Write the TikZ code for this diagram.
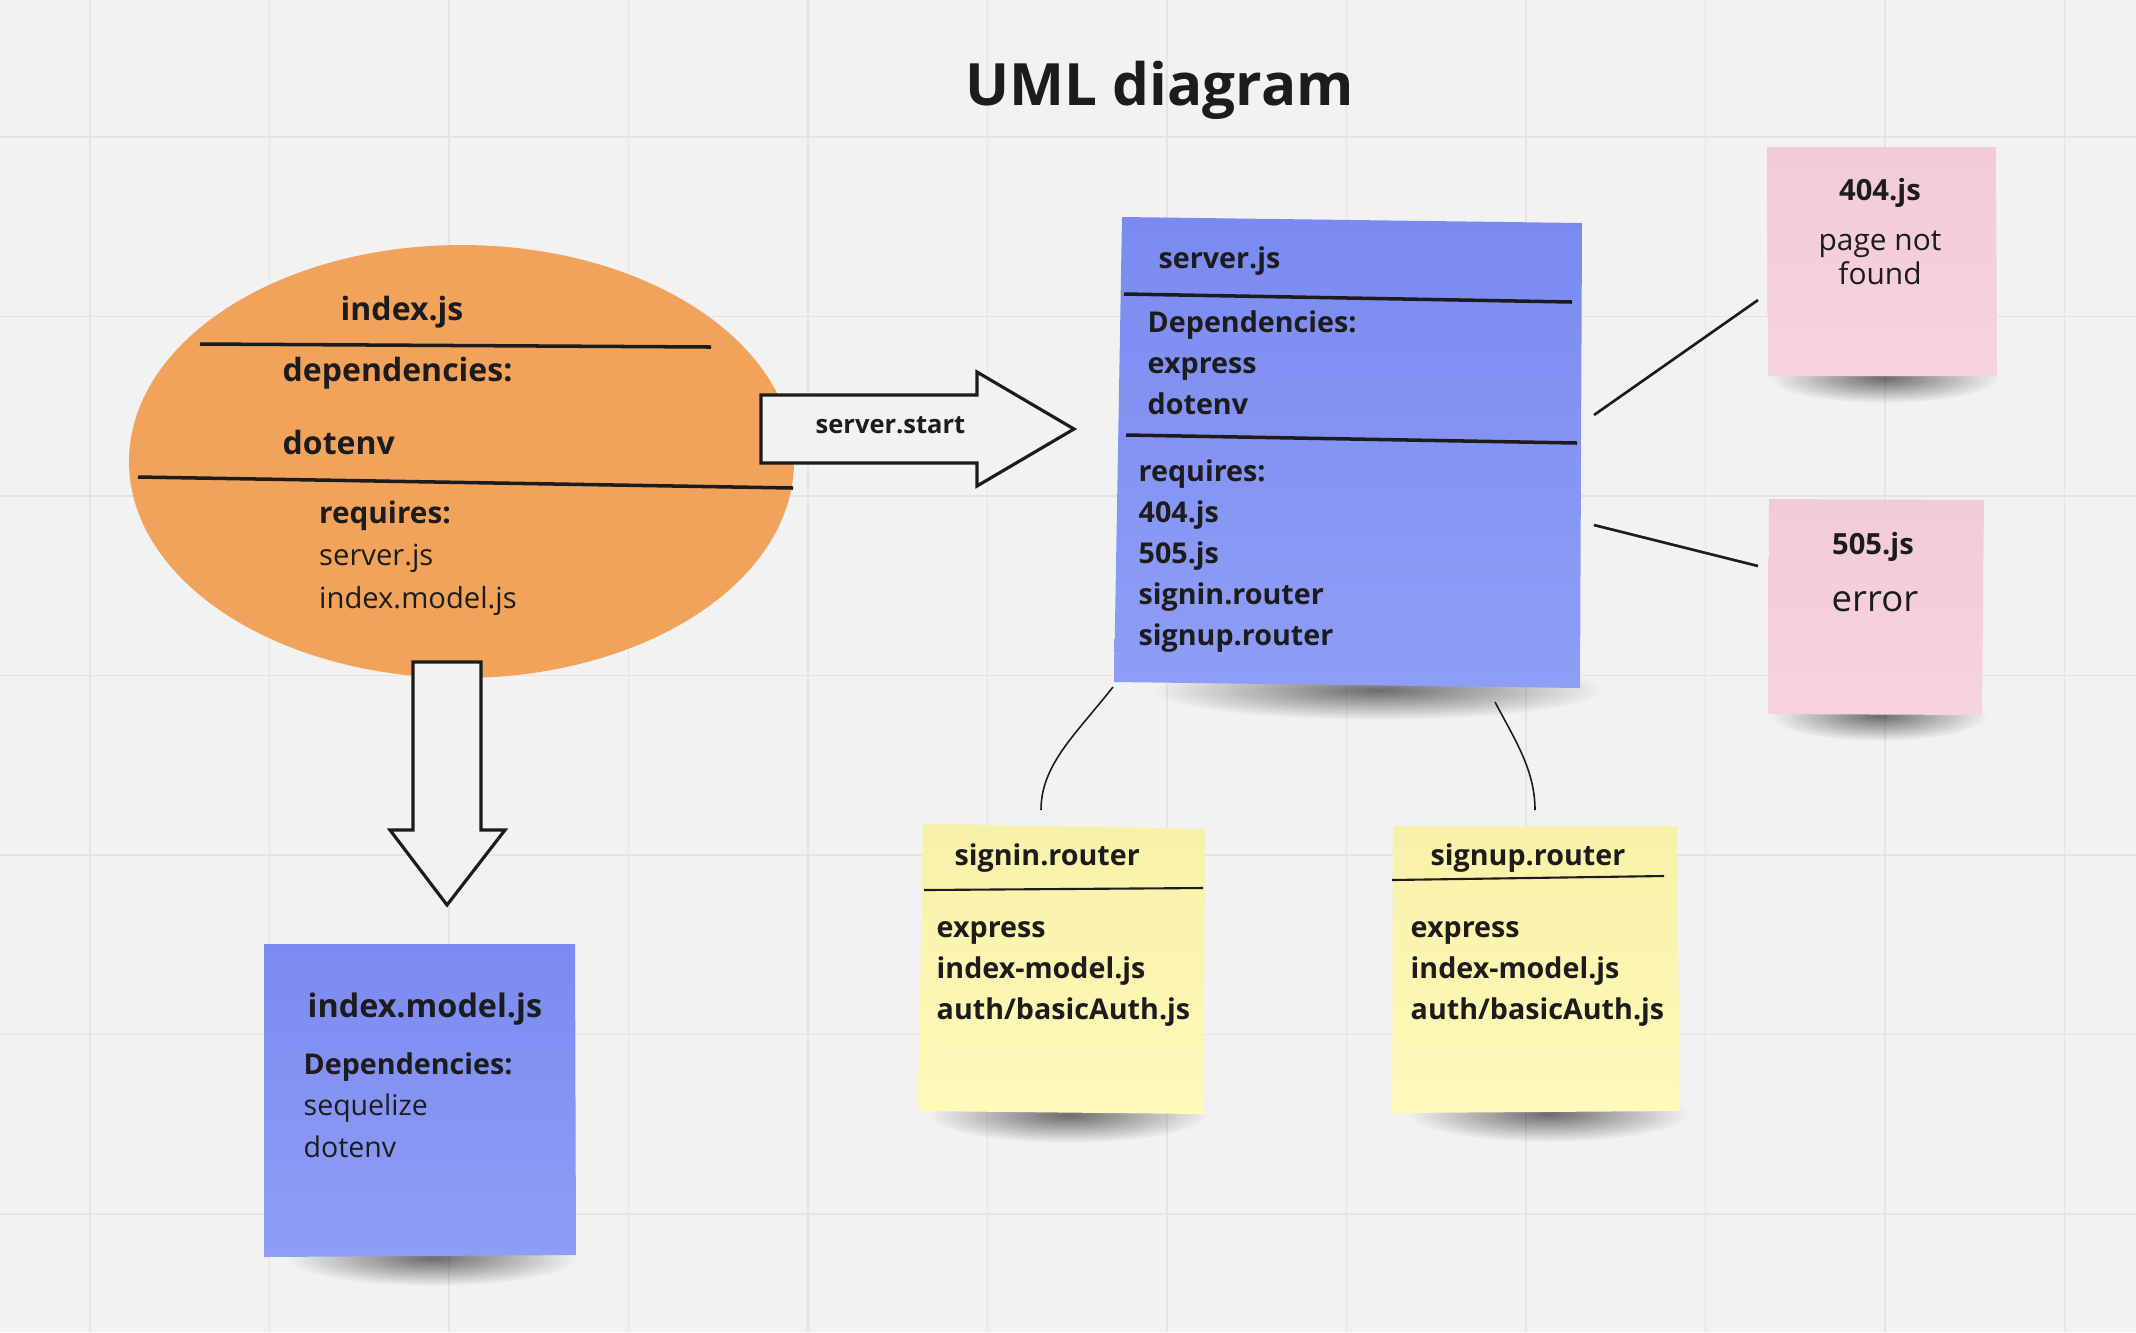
\documentclass[tikz,border=0pt]{standalone}
\usepackage{fontspec}
\setmainfont{Open Sans}
\usetikzlibrary{fadings}
\definecolor{canvas}{HTML}{F2F2F2}
\definecolor{gridc}{HTML}{E4E4E4}
\definecolor{ink}{HTML}{1C1C1C}
\definecolor{orangefill}{HTML}{F1A35B}
\definecolor{bluetop}{HTML}{7B8AF0}
\definecolor{bluebot}{HTML}{8E9EF6}
\definecolor{pinktop}{HTML}{F2CBDB}
\definecolor{pinkfill}{HTML}{F7D2E0}
\definecolor{yellowtop}{HTML}{F8F1A8}
\definecolor{yellowfill}{HTML}{FFF9BB}
\tikzfading[name=softshade,inner color=transparent!45,outer color=transparent!100]
\newcommand\setfs[2]{\fontsize{#1}{#2}\selectfont}
\begin{document}
\begin{tikzpicture}[x=0.01cm,y=-0.01cm,
    lbl/.style={anchor=base west,inner sep=0,text=ink,font=\bfseries\setfs{8.15}{10}},
    plain/.style={lbl,font=\setfs{8.1}{10}},
    big/.style={font=\bfseries\setfs{9.1}{11}},
    ttl/.style={anchor=base,inner sep=0,text=ink},
    rule/.style={draw=ink,line width=1pt},
    thinrule/.style={draw=ink,line width=0.6pt},
    hollow/.style={fill=canvas,draw=ink,line width=0.9pt,line join=miter},
    link/.style={draw=ink,line width=0.75pt},
    curvelink/.style={draw=ink,line width=0.45pt},
    gridline/.style={draw=gridc,line width=0.5pt},
    shadowblob/.style={fill=black,path fading=softshade}]
  \useasboundingbox (0,0) rectangle (2136,1332);
  \fill[canvas] (0,0) rectangle (2136,1332);
  \foreach \k in {0,...,11} \draw[gridline] (90+179.5*\k,0) -- (90+179.5*\k,1332);
  \foreach \k in {0,...,6} \draw[gridline] (0,137+179.5*\k) -- (2136,137+179.5*\k);
  \node[ttl,font=\bfseries\setfs{16.6}{20}] (title) at (1159.5,105) {UML diagram};

  \fill[shadowblob] (1378,690) ellipse (225 and 30);
  \fill[shadowblob] (432,1258) ellipse (145 and 28);
  \fill[shadowblob] (1068,1115) ellipse (140 and 28);
  \fill[shadowblob] (1548,1114) ellipse (140 and 28);
  \fill[shadowblob] (1884,378) ellipse (115 and 25);
  \fill[shadowblob] (1879,716) ellipse (108 and 25);

  \fill[orangefill] (461.5,461.5) ellipse (332.5 and 216.5);
  \draw[rule] (200,344) -- (711,347);
  \draw[rule] (138,477) -- (793,488);
  \node[lbl,big] (idxname) at (340,320) {index.js};
  \node[lbl,big] (idxdep) at (282,381) {dependencies:};
  \node[lbl,big] (idxdotenv) at (282,454) {dotenv};
  \node[lbl,font=\bfseries\setfs{8.45}{10}] (idxreq) at (318.5,523) {requires:};
  \foreach[count=\i,evaluate={522+43*\i} as \y] \v in {server.js,index.model.js} {
    \node[plain,font=\setfs{8.3}{10}] (idxreq\i) at (318.5,\y) {\v};
  }

  \draw[hollow] (761,395) -- (977,395) -- (977,372) -- (1074,429) -- (977,486) -- (977,463) -- (761,463) -- cycle;
  \node[lbl,font=\bfseries\setfs{7.25}{9}] (start) at (815,433) {server.start};
  \draw[hollow] (413,662) -- (481,662) -- (481,830) -- (505,830) -- (447,905) -- (390,830) -- (413,830) -- cycle;

  \shade[top color=bluetop,bottom color=bluebot] (1122,217) -- (1582,223) -- (1580,688) -- (1114,682) -- cycle;
  \draw[rule] (1124,294) -- (1572,302);
  \draw[rule] (1126,435) -- (1577,443);
  \node[lbl] (srvname) at (1158,268) {server.js};
  \foreach[count=\i,evaluate={291+41*\i} as \y] \v in {Dependencies:,express,dotenv} {
    \node[lbl] (srvdep\i) at (1147,\y) {\v};
  }
  \foreach[count=\i,evaluate={440+41*\i} as \y] \v in {requires:,404.js,505.js,signin.router,signup.router} {
    \node[lbl] (srvreq\i) at (1138,\y) {\v};
  }

  \shade[top color=pinktop,bottom color=pinkfill] (1767,147) -- (1996,147) -- (1997,376) -- (1768,376) -- cycle;
  \node[ttl,font=\bfseries\setfs{8.3}{10}] (nf) at (1880,200) {404.js};
  \foreach[count=\i,evaluate={217+33.5*\i} as \y] \v in {page not,found} {
    \node[ttl,font=\setfs{8.5}{10}] (nfmsg\i) at (1880,\y) {\v};
  }
  \shade[top color=pinktop,bottom color=pinkfill] (1769,499) -- (1984,500) -- (1982,715) -- (1768,714) -- cycle;
  \node[ttl,font=\bfseries\setfs{8.3}{10}] (err) at (1873,554) {505.js};
  \node[ttl,font=\setfs{10.4}{12}] (errmsg) at (1875,611) {error};

  \shade[top color=yellowtop,bottom color=yellowfill] (923,824) -- (1205,829) -- (1204,1114) -- (918,1111) -- cycle;
  \draw[thinrule] (924,890) -- (1203,888);
  \node[lbl] (inname) at (954,865) {signin.router};
  \foreach[count=\i,evaluate={896+41*\i} as \y] \v in {express,index-model.js,{auth/basicAuth.js}} {
    \node[lbl] (indep\i) at (936,\y) {\v};
  }
  \shade[top color=yellowtop,bottom color=yellowfill] (1393,826) -- (1677,826) -- (1680,1111) -- (1392,1113) -- cycle;
  \draw[thinrule] (1392,880) -- (1664,876);
  \node[lbl] (upname) at (1430,865) {signup.router};
  \foreach[count=\i,evaluate={896+41*\i} as \y] \v in {express,index-model.js,{auth/basicAuth.js}} {
    \node[lbl] (updep\i) at (1410,\y) {\v};
  }

  \shade[top color=bluetop,bottom color=bluebot] (264,944) -- (575,944) -- (576,1255) -- (264,1257) -- cycle;
  \node[lbl,font=\bfseries\setfs{9.2}{11}] (modelname) at (307,1017) {index.model.js};
  \node[lbl] (modeldep) at (303,1074) {Dependencies:};
  \foreach[count=\i,evaluate={1074+41.5*\i} as \y] \v in {sequelize,dotenv} {
    \node[plain] (modeldep\i) at (303,\y) {\v};
  }

  \coordinate (srv404) at (1594,415);
  \coordinate (nf404) at (1758,300);
  \coordinate (srv505) at (1594,525);
  \coordinate (err505) at (1758,566);
  \coordinate (srvin) at (1113,687);
  \coordinate (intop) at (1041,810);
  \coordinate (srvup) at (1495,702);
  \coordinate (uptop) at (1535,810);
  \draw[link] (srv404) -- (nf404);
  \draw[link] (srv505) -- (err505);
  \draw[curvelink] (srvin) .. controls (1075,735) and (1041,765) .. (intop);
  \draw[curvelink] (srvup) .. controls (1515,740) and (1535,770) .. (uptop);
\end{tikzpicture}
\end{document}
